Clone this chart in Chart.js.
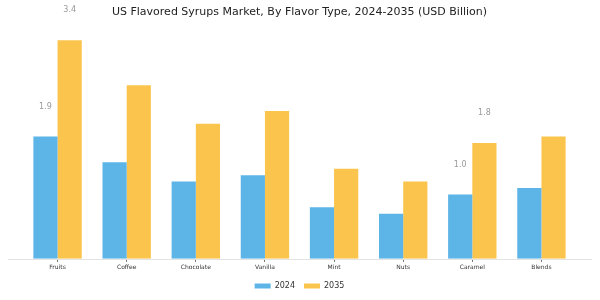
<!DOCTYPE html>
<html>
<head>
<meta charset="utf-8">
<script src="https://cdn.jsdelivr.net/npm/chart.js@4"></script>
<style>
  html, body { margin: 0; padding: 0; background: #fff; }
  #wrap { width: 600px; height: 300px; }
</style>
</head>
<body>
<div id="wrap"><canvas id="syrupChart"></canvas></div>
<script>
const flavors = ['Fruits', 'Coffee', 'Chocolate', 'Vanilla', 'Mint', 'Nuts', 'Caramel', 'Blends'];
const values2024 = [1.9, 1.5, 1.2, 1.3, 0.8, 0.7, 1.0, 1.1];
const values2035 = [3.4, 2.7, 2.1, 2.3, 1.4, 1.2, 1.8, 1.9];
// only some bars carry a value label in the original
const labelled = ['Fruits', 'Caramel'];

// value labels, drawn about 30px above the bar top
const valueLabels = {
  id: 'valueLabels',
  afterDatasetsDraw(chart) {
    const ctx = chart.ctx;
    ctx.save();
    ctx.font = '8px "DejaVu Sans"';
    ctx.fillStyle = '#999';
    ctx.textAlign = 'center';
    ctx.textBaseline = 'middle';
    chart.data.datasets.forEach((ds, di) => {
      chart.getDatasetMeta(di).data.forEach((bar, i) => {
        if (!labelled.includes(flavors[i])) return;
        ctx.fillText(ds.data[i].toFixed(1), bar.x, bar.y - 30);
      });
    });
    ctx.restore();
  }
};

// thin baseline across the full width
const baseline = {
  id: 'baseline',
  beforeDatasetsDraw(chart) {
    const ctx = chart.ctx;
    const y = chart.scales.y.getPixelForValue(0);
    ctx.save();
    ctx.strokeStyle = '#e3e3e3';
    ctx.lineWidth = 1;
    ctx.beginPath();
    ctx.moveTo(8, Math.round(y) + 0.5);
    ctx.lineTo(592, Math.round(y) + 0.5);
    ctx.stroke();
    ctx.restore();
  }
};

const ctx = document.getElementById('syrupChart').getContext('2d');
new Chart(ctx, {
  type: 'bar',
  data: {
    labels: flavors,
    datasets: [
      { label: '2024', data: values2024, backgroundColor: '#5db4e7' },
      { label: '2035', data: values2035, backgroundColor: '#fbc54d' }
    ]
  },
  options: {
    responsive: true,
    maintainAspectRatio: false,
    animation: false,
    layout: { padding: { left: 23, right: 24, top: 0, bottom: 0 } },
    datasets: { bar: { categoryPercentage: 0.7, barPercentage: 1.0 } },
    plugins: {
      title: {
        display: true,
        text: 'US Flavored Syrups Market, By Flavor Type, 2024-2035 (USD Billion)',
        color: '#222',
        font: { family: 'DejaVu Sans', size: 11, weight: 'normal' },
        padding: { top: 6, bottom: 10 }
      },
      legend: {
        position: 'bottom',
        labels: {
          boxWidth: 16, boxHeight: 5,
          color: '#333',
          font: { family: 'DejaVu Sans', size: 8 },
          padding: 9
        }
      },
      tooltip: { enabled: false }
    },
    scales: {
      x: {
        grid: { drawOnChartArea: false, drawTicks: true, tickLength: 3, offset: false, color: '#666' },
        border: { display: false },
        ticks: { color: '#333', font: { family: 'DejaVu Sans', size: 6 }, padding: 2 }
      },
      y: {
        display: false,
        min: 0,
        max: 3.57
      }
    }
  },
  plugins: [valueLabels, baseline]
});
</script>
</body>
</html>
